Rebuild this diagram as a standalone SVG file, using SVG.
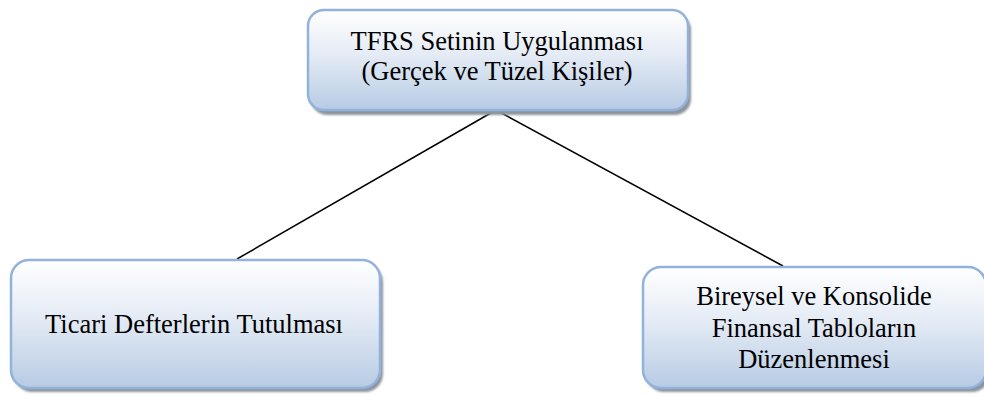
<svg xmlns="http://www.w3.org/2000/svg" width="984" height="396" viewBox="0 0 984 396">
<defs>
<linearGradient id="g" x1="0" y1="0" x2="0" y2="1">
<stop offset="0" stop-color="#ffffff"/>
<stop offset="0.45" stop-color="#e4ebf5"/>
<stop offset="1" stop-color="#b7cbe4"/>
</linearGradient>
<filter id="sh" x="-5%" y="-5%" width="115%" height="120%">
<feGaussianBlur stdDeviation="0.8"/>
</filter>
</defs>
<style>
.shadow{fill:#8e949c;filter:url(#sh)}
.box{fill:url(#g);stroke:#92b2dc;stroke-width:2.5}
.c{stroke:#000;stroke-width:1.5;fill:none}
.t{font-family:'Liberation Serif','Times New Roman',serif;font-size:26.5px;fill:#000;text-anchor:middle}
</style>
<rect width="984" height="396" fill="#fff"/>
<g id="connectors">
<line class="c" x1="496" y1="110" x2="237" y2="259"/>
<line class="c" x1="496" y1="110" x2="783" y2="266"/>
</g>
<g id="node-top">
<rect class="shadow" x="311" y="14" width="380" height="101" rx="16"/>
<rect class="box" x="308" y="10" width="380" height="100" rx="16"/>
<text class="t" x="497" y="50">TFRS Setinin Uygulanması</text>
<text class="t" x="497" y="80">(Gerçek ve Tüzel Kişiler)</text>
</g>
<g id="node-left">
<rect class="shadow" x="14" y="264" width="369" height="128" rx="18"/>
<rect class="box" x="11" y="260" width="369" height="128" rx="18"/>
<text class="t" x="194" y="333">Ticari Defterlerin Tutulması</text>
</g>
<g id="node-right">
<rect class="shadow" x="646" y="271" width="344" height="121" rx="18"/>
<rect class="box" x="643" y="267" width="343" height="121" rx="18"/>
<text class="t" x="814" y="305">Bireysel ve Konsolide</text>
<text class="t" x="814" y="337">Finansal Tabloların</text>
<text class="t" x="814" y="368">Düzenlenmesi</text>
</g>
</svg>
